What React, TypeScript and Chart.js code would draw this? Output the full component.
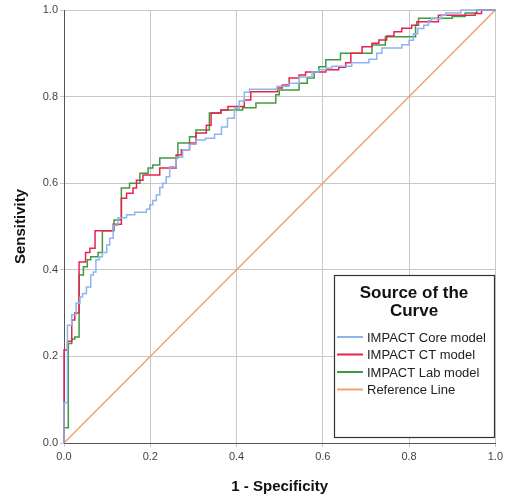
import React, { useEffect, useRef } from "react";
import { Chart, registerables } from "chart.js";

Chart.register(...registerables);

const FONT = "'Liberation Sans', Arial, Helvetica, sans-serif";

// ROC step data: at each FPR value the curve rises vertically to the matching TPR, then runs right
const coreFpr = [0, 0.008, 0.018, 0.028, 0.037, 0.043, 0.052, 0.062, 0.068, 0.074, 0.082, 0.089, 0.099, 0.106, 0.114, 0.125, 0.145, 0.164, 0.191, 0.199, 0.206, 0.214, 0.222, 0.229, 0.237, 0.245, 0.26, 0.275, 0.291, 0.306, 0.328, 0.349, 0.365, 0.379, 0.395, 0.406, 0.418, 0.43, 0.494, 0.522, 0.545, 0.575, 0.591, 0.607, 0.621, 0.667, 0.707, 0.725, 0.737, 0.783, 0.8, 0.81, 0.82, 0.834, 0.845, 0.852, 0.875, 0.885, 0.92];
const coreTpr = [0.093, 0.272, 0.296, 0.323, 0.337, 0.345, 0.36, 0.388, 0.395, 0.423, 0.43, 0.44, 0.457, 0.473, 0.503, 0.52, 0.527, 0.533, 0.54, 0.55, 0.56, 0.573, 0.59, 0.6, 0.615, 0.638, 0.66, 0.677, 0.69, 0.7, 0.704, 0.713, 0.73, 0.75, 0.773, 0.79, 0.81, 0.817, 0.824, 0.831, 0.845, 0.857, 0.862, 0.866, 0.87, 0.878, 0.886, 0.9, 0.912, 0.92, 0.93, 0.945, 0.957, 0.965, 0.975, 0.98, 0.988, 0.993, 1.0];

const ctFpr = [0, 0.008, 0.018, 0.025, 0.035, 0.05, 0.06, 0.072, 0.114, 0.133, 0.145, 0.16, 0.168, 0.183, 0.222, 0.26, 0.272, 0.291, 0.306, 0.33, 0.341, 0.364, 0.38, 0.418, 0.433, 0.495, 0.506, 0.522, 0.545, 0.56, 0.607, 0.637, 0.653, 0.665, 0.691, 0.714, 0.73, 0.748, 0.765, 0.783, 0.806, 0.818, 0.868, 0.953, 0.968];
const ctTpr = [0.215, 0.235, 0.284, 0.3, 0.418, 0.44, 0.45, 0.49, 0.505, 0.565, 0.577, 0.589, 0.607, 0.619, 0.635, 0.665, 0.677, 0.693, 0.716, 0.734, 0.762, 0.769, 0.777, 0.792, 0.811, 0.82, 0.827, 0.843, 0.85, 0.857, 0.862, 0.868, 0.878, 0.9, 0.915, 0.923, 0.931, 0.94, 0.95, 0.958, 0.965, 0.973, 0.988, 0.992, 1.0];

const labFpr = [0, 0.01, 0.018, 0.025, 0.035, 0.045, 0.054, 0.062, 0.079, 0.089, 0.116, 0.133, 0.152, 0.176, 0.195, 0.206, 0.222, 0.264, 0.291, 0.306, 0.337, 0.364, 0.414, 0.445, 0.491, 0.499, 0.545, 0.564, 0.58, 0.591, 0.607, 0.641, 0.714, 0.745, 0.815, 0.822, 0.9, 0.93, 0.957];
const labTpr = [0.035, 0.23, 0.24, 0.245, 0.388, 0.407, 0.423, 0.43, 0.44, 0.49, 0.515, 0.589, 0.6, 0.623, 0.635, 0.642, 0.658, 0.693, 0.707, 0.723, 0.762, 0.769, 0.774, 0.785, 0.804, 0.815, 0.831, 0.843, 0.857, 0.869, 0.885, 0.9, 0.919, 0.938, 0.965, 0.981, 0.985, 0.993, 1.0];

const refX = [0, 1];
const refY = [0, 1];

const seriesLabels = ["IMPACT Core model", "IMPACT CT model", "IMPACT Lab model", "Reference Line"];
const seriesColors = ["#8db4ee", "#e8224f", "#3f9a3f", "#f4a06f"];
const tickValues = [0, 0.2, 0.4, 0.6, 0.8, 1.0];
const legendTitle = ["Source of the", "Curve"];
const xTitle = "1 - Specificity";
const yTitle = "Sensitivity";

function stepPoints(xs: number[], ys: number[]) {
  const pts: { x: number; y: number }[] = [{ x: 0, y: 0 }];
  let prev = 0;
  for (let i = 0; i < xs.length; i++) {
    pts.push({ x: xs[i], y: prev });
    pts.push({ x: xs[i], y: ys[i] });
    prev = ys[i];
  }
  pts.push({ x: 1, y: prev });
  return pts;
}

const legendBoxPlugin = {
  id: "legendBox",
  afterDraw(chart: any) {
    const ctx = chart.ctx;
    const left = 334, top = 275, right = 494, bottom = 437;
    ctx.save();
    ctx.fillStyle = "#ffffff";
    ctx.fillRect(left, top, right - left, bottom - top);
    ctx.strokeStyle = "#333333";
    ctx.lineWidth = 1.2;
    ctx.strokeRect(left + 0.5, top + 0.5, right - left, bottom - top);
    ctx.fillStyle = "#111111";
    ctx.font = `bold 17px ${FONT}`;
    ctx.textAlign = "center";
    ctx.textBaseline = "middle";
    const cx = (left + right) / 2;
    legendTitle.forEach((t, i) => ctx.fillText(t, cx, 293 + i * 18));
    ctx.font = `13px ${FONT}`;
    ctx.textAlign = "left";
    const ys = [337, 354.5, 372, 389.5];
    chart.data.datasets.forEach((ds: any, i: number) => {
      const y = ys[i];
      ctx.strokeStyle = ds.borderColor;
      ctx.lineWidth = 2;
      ctx.beginPath();
      ctx.moveTo(337, y);
      ctx.lineTo(363, y);
      ctx.stroke();
      ctx.fillStyle = "#222222";
      ctx.fillText(ds.label, 367, y + 1);
    });
    ctx.restore();
  },
};

export default function App() {
  const ref = useRef<HTMLCanvasElement | null>(null);

  useEffect(() => {
    document.body.style.margin = "0";
    if (!ref.current) return;
    const mk = (i: number, data: any[]) => ({
      label: seriesLabels[i],
      data,
      borderColor: seriesColors[i],
      backgroundColor: seriesColors[i],
      borderWidth: 1.5,
      pointRadius: 0,
      showLine: true,
      fill: false,
      tension: 0,
      clip: 4,
    });
    const chart = new Chart(ref.current, {
      type: "scatter",
      data: {
        datasets: [
          mk(0, stepPoints(coreFpr, coreTpr)),
          mk(1, stepPoints(ctFpr, ctTpr)),
          mk(2, stepPoints(labFpr, labTpr)),
          mk(3, refX.map((x, i) => ({ x, y: refY[i] }))),
        ],
      },
      options: {
        responsive: false,
        animation: false,
        layout: { padding: { top: 10, right: 9, left: 0, bottom: 0 } },
        plugins: { legend: { display: false }, tooltip: { enabled: false } },
        scales: {
          x: {
            type: "linear",
            min: 0,
            max: 1,
            afterBuildTicks: (s: any) => {
              s.ticks = tickValues.map((v) => ({ value: v }));
            },
            afterFit: (s: any) => {
              s.height = 57;
            },
            ticks: {
              callback: (v: any) => Number(v).toFixed(1),
              font: { size: 11, family: FONT },
              color: "#444",
              padding: 3,
              maxRotation: 0,
            },
            grid: { color: "#c8c8c8", lineWidth: 1, tickLength: 4 },
            border: { color: "#555", width: 1 },
            title: {
              display: true,
              text: xTitle,
              font: { size: 15, weight: "bold", family: FONT },
              color: "#111",
              padding: { top: 0, bottom: 4 },
            },
          },
          y: {
            type: "linear",
            min: 0,
            max: 1,
            afterBuildTicks: (s: any) => {
              s.ticks = tickValues.map((v) => ({ value: v }));
            },
            afterFit: (s: any) => {
              s.width = 64;
            },
            ticks: {
              callback: (v: any) => Number(v).toFixed(1),
              font: { size: 11, family: FONT },
              color: "#444",
              padding: 2,
            },
            grid: { color: "#c8c8c8", lineWidth: 1, tickLength: 4 },
            border: { color: "#555", width: 1 },
            title: {
              display: true,
              text: yTitle,
              font: { size: 15, weight: "bold", family: FONT },
              color: "#111",
              padding: { top: 12, bottom: 0 },
            },
          },
        },
      },
      plugins: [legendBoxPlugin],
    } as any);
    return () => chart.destroy();
  }, []);

  return (
    <div style={{ width: 506, height: 500, background: "#fff" }}>
      <canvas ref={ref} width={506} height={500} style={{ display: "block" }} />
    </div>
  );
}
